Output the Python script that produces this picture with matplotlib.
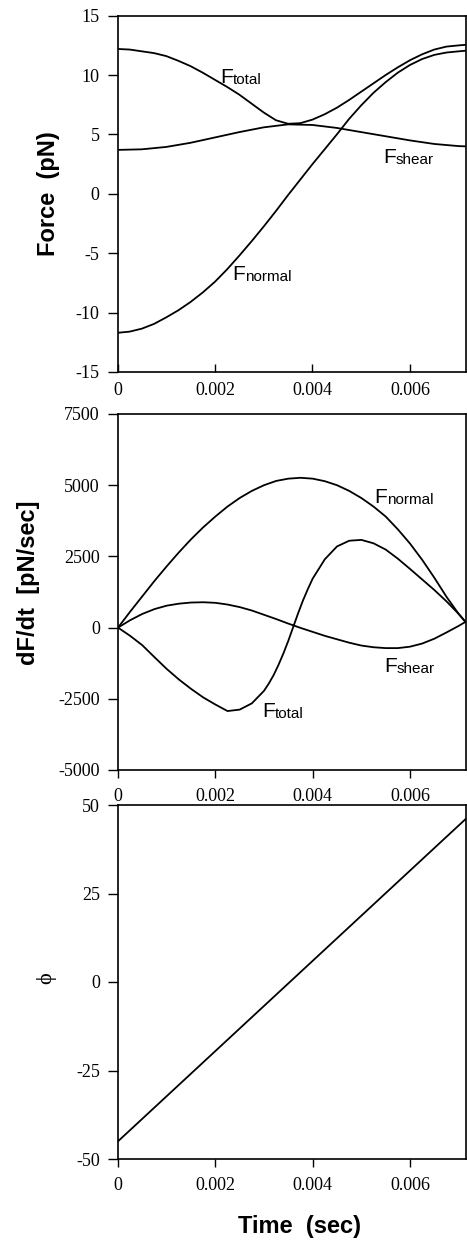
import matplotlib
matplotlib.use('Agg')
import matplotlib.pyplot as plt

plt.rcParams['axes.unicode_minus'] = False

# time axis (sec)
t = [0, 0.00025, 0.0005, 0.00075, 0.001, 0.00125, 0.0015, 0.00175, 0.002,
     0.00225, 0.0025, 0.00275, 0.003, 0.00325, 0.0035, 0.00375, 0.004,
     0.00425, 0.0045, 0.00475, 0.005, 0.00525, 0.0055, 0.00575, 0.006,
     0.00625, 0.0065, 0.00675, 0.007, 0.00714]
t_coarse = [0, 0.0005, 0.001, 0.0015, 0.002, 0.0025, 0.003, 0.0035, 0.004,
            0.0045, 0.005, 0.0055, 0.006, 0.0065, 0.007, 0.00714]

# panel 1: force (pN)
f_normal = [-11.7, -11.6, -11.35, -10.95, -10.4, -9.8, -9.1, -8.3, -7.4,
            -6.35, -5.2, -4.0, -2.75, -1.45, -0.1, 1.2, 2.5,
            3.75, 5.0, 6.3, 7.45, 8.5, 9.4, 10.2, 10.85,
            11.35, 11.7, 11.9, 12.0, 12.05]
f_shear = [3.7, 3.75, 3.95, 4.3, 4.75, 5.2, 5.6, 5.85, 5.8,
           5.55, 5.2, 4.85, 4.5, 4.2, 4.02, 4.0]
f_total = [12.2, 12.15, 12.0, 11.85, 11.6, 11.2, 10.75, 10.2, 9.6,
           9.0, 8.35, 7.6, 6.85, 6.2, 5.9, 5.95, 6.25,
           6.7, 7.25, 7.9, 8.6, 9.3, 10.0, 10.65, 11.25,
           11.75, 12.15, 12.4, 12.5, 12.55]

# panel 2: dF/dt (pN/sec)
d_normal = [0, 560, 1100, 1640, 2150, 2640, 3100, 3520, 3900,
            4250, 4550, 4800, 5000, 5150, 5230, 5260, 5230,
            5140, 5000, 4800, 4550, 4250, 3900, 3450, 2950,
            2380, 1750, 1080, 480, 200]
d_shear = [0, 260, 480, 650, 770, 840, 880, 890, 870,
           810, 720, 600, 450, 300, 140, -10, -150,
           -290, -410, -530, -630, -690, -720, -720, -670,
           -560, -390, -170, 60, 200]
t_dtotal = [0, 0.00025, 0.0005, 0.00075, 0.001, 0.00125, 0.0015, 0.00175,
            0.002, 0.00225, 0.0025, 0.00275, 0.003, 0.0031, 0.0032, 0.0033,
            0.0034, 0.0035, 0.0036, 0.0037, 0.0038, 0.0039, 0.004, 0.00425,
            0.0045, 0.00475, 0.005, 0.00525, 0.0055, 0.00575, 0.006, 0.00625,
            0.0065, 0.00675, 0.007, 0.00714]
d_total = [0, -290, -620, -1040, -1450, -1820, -2150, -2450,
           -2700, -2930, -2880, -2660, -2220, -1960, -1660, -1300,
           -900, -460, 20, 500, 950, 1350, 1720, 2400,
           2850, 3050, 3080, 2960, 2740, 2420, 2060, 1690,
           1320, 920, 480, 200]

# panel 3: phase angle
t_phi = [0, 0.00714]
phi = [-45, 46]

x_ticks = [0, 0.002, 0.004, 0.006]
x_ticklabels = ['0', '0.002', '0.004', '0.006']

W, H = 467, 1242
fig = plt.figure(figsize=(W / 100, H / 100), dpi=100)


def px_axes(left, top, right, bottom):
    return fig.add_axes([left / W, 1 - bottom / H, (right - left) / W, (bottom - top) / H])


def style(ax, ylim, yticks, xdir):
    ax.set_xlim(0, 0.00714)
    ax.set_ylim(*ylim)
    ax.set_yticks(yticks)
    ax.set_yticklabels([str(v) for v in yticks])
    ax.set_xticks(x_ticks)
    ax.set_xticklabels(x_ticklabels)
    for lab in ax.get_xticklabels() + ax.get_yticklabels():
        lab.set_fontfamily('Liberation Serif')
        lab.set_fontsize(13)
    ax.tick_params(axis='y', direction='out', length=7, width=1, pad=6)
    ax.tick_params(axis='x', direction=xdir, length=6, width=1, pad=7)
    for s in ax.spines.values():
        s.set_linewidth(1.2)


def curve_label(ax, x, y, sub):
    big = ax.text(x, y, 'F', fontsize=15, family='Liberation Sans',
                  ha='left', va='baseline')
    ax.annotate(sub, xy=(1, 0), xycoords=big, fontsize=11,
                family='Liberation Sans', ha='left', va='bottom')


lw = 1.3

ax1 = px_axes(117.5, 15.7, 465.5, 372)
ax1.plot(t, f_normal, color='black', lw=lw)
ax1.plot(t_coarse, f_shear, color='black', lw=lw)
ax1.plot(t, f_total, color='black', lw=lw)
style(ax1, (-15, 15), [-15, -10, -5, 0, 5, 10, 15], 'in')
curve_label(ax1, 0.0021, 9.3, 'total')
curve_label(ax1, 0.00545, 2.6, 'shear')
curve_label(ax1, 0.00235, -7.25, 'normal')

ax2 = px_axes(118, 414, 465.5, 770)
ax2.plot(t, d_normal, color='black', lw=lw)
ax2.plot(t, d_shear, color='black', lw=lw)
ax2.plot(t_dtotal, d_total, color='black', lw=lw)
style(ax2, (-5000, 7500), [-5000, -2500, 0, 2500, 5000, 7500], 'out')
curve_label(ax2, 0.00526, 4380, 'normal')
curve_label(ax2, 0.00547, -1550, 'shear')
curve_label(ax2, 0.00297, -3150, 'total')

ax3 = px_axes(118, 805, 465.5, 1159)
ax3.plot(t_phi, phi, color='black', lw=lw)
style(ax3, (-50, 50), [-50, -25, 0, 25, 50], 'out')

fig.text(48 / W, 1 - 194 / H, 'Force  (pN)', rotation=90, ha='center', va='center',
         fontsize=17, fontweight='bold', family='Liberation Sans')
fig.text(29 / W, 1 - 583 / H, 'dF/dt  [pN/sec]', rotation=90, ha='center', va='center',
         fontsize=17, fontweight='bold', family='Liberation Sans')
fig.text(46 / W, 1 - 978 / H, '\u03d5', rotation=90, ha='center', va='center',
         fontsize=16, family=['Liberation Serif', 'DejaVu Serif'])
fig.text(299 / W, 1 - 1226 / H, 'Time  (sec)', ha='center', va='center',
         fontsize=17, fontweight='bold', family='Liberation Sans')

fig.savefig('out.png', dpi=100)
